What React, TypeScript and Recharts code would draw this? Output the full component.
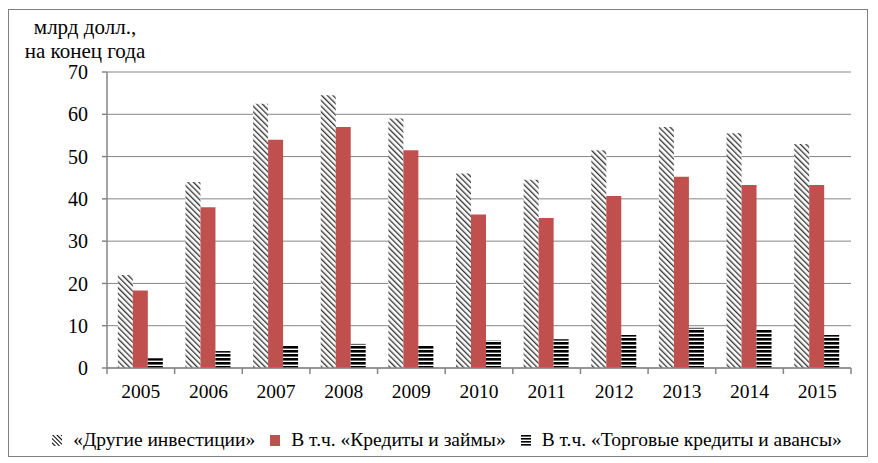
import { BarChart, Bar, XAxis, YAxis, CartesianGrid, Legend } from 'recharts';

// #region data, млрд долл. на конец года
const years = ['2005', '2006', '2007', '2008', '2009', '2010', '2011', '2012', '2013', '2014', '2015'];
const otherInvestments = [22, 44, 62.5, 64.5, 59, 46, 44.5, 51.5, 57, 55.5, 53];
const loans = [18.3, 38, 54, 57, 51.5, 36.3, 35.5, 40.7, 45.2, 43.3, 43.3];
const tradeCredits = [2.3, 4, 5.3, 5.7, 5.4, 6.5, 6.8, 7.8, 9.5, 9.2, 7.8];
const yTicks = [0, 10, 20, 30, 40, 50, 60, 70];
// #endregion

const data = years.map((year, i) => ({
  year,
  other: otherInvestments[i],
  loans: loans[i],
  trade: tradeCredits[i],
}));

const font = "'Liberation Serif'";
const axisColor = '#868686';

const W = 858;
const H = 446;
const M = { top: 62, right: 16, left: 0, bottom: 36 };
const Y_AXIS_W = 98;
const band = (W - M.left - M.right - Y_AXIS_W) / years.length;

const legendItems = [
  { key: 'other', label: '«Другие инвестиции»' },
  { key: 'loans', label: 'В т.ч. «Кредиты и займы»' },
  { key: 'trade', label: 'В т.ч. «Торговые кредиты и авансы»' },
];

function XTick(props: any) {
  const { x, y, payload, index } = props;
  const last = index === years.length - 1;
  return (
    <g>
      <line x1={x - band / 2} x2={x - band / 2} y1={y - 8} y2={y - 2} stroke={axisColor} strokeWidth={1.5} />
      {last && <line x1={x + band / 2} x2={x + band / 2} y1={y - 8} y2={y - 2} stroke={axisColor} strokeWidth={1.5} />}
      <text x={x} y={y + 22} textAnchor="middle" style={{ fontFamily: font }} fontSize={19.5} fill="#000">
        {payload.value}
      </text>
    </g>
  );
}

function LegendIcon({ k }: { k: string }) {
  return (
    <svg width={10} height={11} style={{ display: 'block' }}>
      <defs>
        <pattern id="lg-hatch" width={3} height={3} patternUnits="userSpaceOnUse" patternTransform="rotate(-45)">
          <rect width={3} height={3} fill="#fff" />
          <rect width={1} height={3} fill="#000" />
        </pattern>
        <pattern id="lg-stripes" width={10} height={3} patternUnits="userSpaceOnUse">
          <rect width={10} height={1.6} fill="#000" />
        </pattern>
      </defs>
      <rect
        width={10}
        height={11}
        fill={k === 'other' ? 'url(#lg-hatch)' : k === 'trade' ? 'url(#lg-stripes)' : '#C0504D'}
      />
    </svg>
  );
}

function LegendContent() {
  return (
    <div
      style={{
        display: 'flex',
        justifyContent: 'center',
        gap: 15,
        fontFamily: font,
        fontSize: 19.5,
        color: '#000',
        paddingLeft: 34,
      }}
    >
      {legendItems.map((it) => (
        <span key={it.key} style={{ display: 'inline-flex', alignItems: 'center', gap: 11 }}>
          <LegendIcon k={it.key} />
          <span>{it.label}</span>
        </span>
      ))}
    </div>
  );
}

export default function App() {
  return (
    <div
      style={{
        position: 'relative',
        width: W,
        height: H,
        border: '1px solid #7f7f7f',
        marginTop: 1,
        background: '#fff',
      }}
    >
      <div
        style={{
          position: 'absolute',
          left: 0,
          top: 5,
          width: 152,
          textAlign: 'center',
          fontFamily: font,
          fontSize: 21,
          lineHeight: '24px',
          color: '#000',
        }}
      >
        млрд долл.,
        <br />
        на конец года
      </div>
      <BarChart width={W} height={H} data={data} margin={M} barCategoryGap="16%" barGap={0}>
        <defs>
          <pattern id="hatch" width={4} height={4} patternUnits="userSpaceOnUse" patternTransform="rotate(-45)">
            <rect width={4} height={4} fill="#fff" />
            <rect width={1.3} height={4} fill="#333" />
          </pattern>
          <pattern id="stripes" width={6} height={4} patternUnits="userSpaceOnUse">
            <rect width={6} height={4} fill="#fff" />
            <rect width={6} height={2.6} fill="#000" />
          </pattern>
        </defs>
        <CartesianGrid vertical={false} stroke={axisColor} strokeWidth={1} />
        <XAxis
          dataKey="year"
          stroke={axisColor}
          strokeWidth={1.5}
          tickLine={false}
          tick={<XTick />}
          interval={0}
        />
        <YAxis
          width={Y_AXIS_W}
          domain={[0, 70]}
          ticks={yTicks}
          stroke={axisColor}
          strokeWidth={1.5}
          tickSize={5}
          tickMargin={14}
          tick={{ fontSize: 20, fill: '#000', style: { fontFamily: font } }}
        />
        <Legend verticalAlign="bottom" align="center" content={<LegendContent />} wrapperStyle={{ bottom: 5 }} />
        <Bar dataKey="other" name="«Другие инвестиции»" fill="url(#hatch)" isAnimationActive={false} />
        <Bar dataKey="loans" name="В т.ч. «Кредиты и займы»" fill="#C0504D" isAnimationActive={false} />
        <Bar dataKey="trade" name="В т.ч. «Торговые кредиты и авансы»" fill="url(#stripes)" isAnimationActive={false} />
      </BarChart>
    </div>
  );
}
